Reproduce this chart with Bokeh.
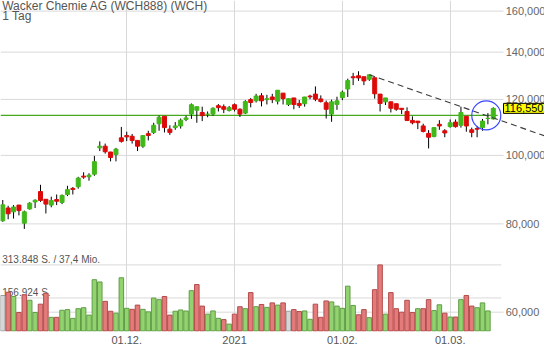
import math
from bokeh.plotting import figure
from bokeh.models import ColumnDataSource, FixedTicker, Range1d, LinearScale, Label
from bokeh.core.properties import value
from bokeh.embed import file_html
from bokeh.resources import INLINE

# ---------------- data ----------------
title_text = "Wacker Chemie AG (WCH888) (WCH)"
interval_text = "1 Tag"

opens = [80.80, 84.25, 83.20, 85.05, 80.19, 83.99, 85.94, 88.88, 86.67, 85.05,
         86.59, 85.78, 88.04, 89.80, 90.29, 93.46, 93.26, 94.05, 102.48, 103.04,
         101.10, 100.25, 105.89, 106.66, 106.42, 105.00, 103.04, 107.33, 107.77, 110.86,
         113.58, 108.93, 109.47, 110.06, 112.41, 114.40, 115.85, 115.01, 114.30, 114.40,
         117.57, 117.20, 115.74, 117.94, 116.21, 114.76, 119.92, 119.44, 121.44, 119.92,
         120.95, 119.32, 122.48, 118.05, 120.57, 118.43, 118.32, 121.30, 122.09, 120.19,
         118.68, 114.40, 118.05, 120.68, 124.14, 129.20, 129.61, 129.20, 128.11, 128.79,
         122.09, 119.06, 119.06, 118.32, 116.58, 115.38, 112.06, 111.81, 110.06, 107.43,
         106.32, 110.65, 108.35, 109.82, 111.46, 110.30, 113.58, 108.69, 109.13, 109.47,
         112.76, 112.62]
highs = [86.48, 84.86, 85.05, 85.10, 83.54, 85.86, 86.67, 90.86, 86.70, 87.41,
         88.04, 88.04, 90.57, 90.20, 93.26, 94.65, 94.35, 99.84, 104.67, 103.92,
         101.15, 102.48, 109.72, 108.01, 107.23, 105.05, 106.70, 108.35, 111.21, 113.82,
         113.60, 110.30, 111.46, 112.76, 113.82, 118.43, 117.25, 117.20, 115.38, 116.95,
         118.20, 118.05, 117.46, 118.43, 116.58, 119.70, 120.57, 122.21, 122.48, 121.82,
         122.21, 123.70, 122.50, 120.32, 120.60, 119.81, 121.00, 121.82, 125.20, 121.59,
         119.55, 119.92, 121.06, 123.52, 128.39, 130.84, 131.54, 129.25, 130.05, 128.85,
         122.10, 120.60, 119.10, 118.35, 116.60, 116.95, 113.58, 111.85, 110.86, 108.59,
         109.50, 112.16, 108.93, 112.41, 112.41, 117.20, 113.60, 109.47, 110.06, 112.62,
         114.76, 116.95]
lows = [80.55, 81.21, 81.39, 82.24, 78.70, 83.80, 84.25, 85.94, 82.76, 84.44,
        85.05, 85.32, 87.58, 88.04, 89.72, 92.67, 92.09, 93.55, 101.42, 100.57,
        98.07, 98.07, 104.25, 104.77, 103.92, 101.42, 102.48, 105.00, 107.23, 108.35,
        107.77, 106.89, 108.69, 109.13, 111.81, 112.62, 111.21, 111.81, 113.22, 113.82,
        115.38, 114.76, 115.38, 115.38, 113.33, 114.40, 116.95, 118.80, 117.31, 118.05,
        118.57, 118.05, 118.05, 117.46, 116.21, 116.73, 117.20, 120.08, 119.32, 118.80,
        112.76, 111.56, 115.99, 119.70, 120.95, 125.72, 127.47, 125.72, 127.47, 120.30,
        115.38, 117.83, 115.01, 115.63, 114.40, 111.81, 110.65, 108.93, 107.77, 102.29,
        106.09, 108.69, 106.09, 109.47, 109.47, 109.47, 108.01, 106.09, 106.09, 108.35,
        110.65, 112.41]
closes = [85.13, 82.68, 84.52, 83.54, 83.20, 85.59, 86.40, 86.35, 85.32, 86.32,
          86.13, 87.77, 89.44, 89.50, 92.88, 93.17, 93.76, 97.98, 103.04, 101.20,
          99.31, 102.06, 104.67, 106.22, 105.00, 103.04, 106.66, 106.70, 110.30, 113.22,
          109.47, 107.77, 110.06, 112.16, 112.97, 117.94, 117.20, 113.82, 114.35, 116.58,
          116.84, 116.21, 116.84, 116.21, 114.40, 119.17, 118.80, 121.33, 119.44, 120.30,
          119.92, 123.64, 120.30, 120.30, 118.05, 117.68, 120.95, 121.00, 120.08, 119.17,
          116.21, 119.06, 119.44, 122.86, 127.59, 128.79, 128.70, 127.47, 130.02, 122.21,
          118.43, 120.57, 116.58, 116.21, 116.15, 112.06, 111.21, 111.25, 108.11, 106.09,
          109.47, 110.06, 107.57, 111.21, 109.82, 115.01, 110.06, 107.77, 108.93, 111.81,
          112.86, 116.55]
volumes = [168700, 184000, 164000, 88000, 172000, 146000, 88000, 127500, 179000, 65000,
           65000, 98500, 101600, 60000, 106000, 110700, 75600, 243600, 232900, 141000,
           94000, 84800, 252800, 107700, 103000, 123000, 103000, 91000, 156500, 149000,
           164000, 75600, 94000, 100000, 95000, 191700, 220700, 118400, 80200, 95400,
           60300, 54200, 32800, 80200, 115300, 106100, 182500, 115300, 126000, 112300,
           133600, 123000, 133600, 94000, 101600, 92400, 95400, 55700, 127500, 65000,
           142800, 138200, 118400, 107700, 213000, 121400, 77100, 101600, 63400, 196300,
           313848, 80200, 182500, 106000, 89300, 145800, 87800, 106000, 106000, 148900,
           97000, 124500, 84800, 66400, 66400, 148900, 168800, 118400, 110700, 133600,
           95400, float("nan")]

date_tick_index = [23, 43, 63, 83]
date_tick_labels = ["01.12.", "2021", "01.02.", "01.03."]
price_ticks = [60, 80, 100, 120, 140, 160]
last_price = 116.55
marker_level = 113.9
trend_from, trend_to = 68, 85
vol_max = 313848
vol_turnover_mio = 37.4

# ---------------- derived ----------------
N = len(closes)
idx = list(range(N))

UP, DOWN = "#40b81a", "#dd0a0a"
body_col = [UP if c >= o else DOWN for o, c in zip(opens, closes)]
vol_fill, vol_line = [], []
for i in range(N):
    prev = closes[i - 1] if i > 0 else closes[i]
    if closes[i] > prev:
        vol_fill.append("#93d36f"); vol_line.append("#5f9e46")
    elif closes[i] < prev:
        vol_fill.append("#e47b7b"); vol_line.append("#b24c4c")
    else:
        vol_fill.append("#d6d6d6"); vol_line.append("#9c9c9c")

src = ColumnDataSource(dict(
    x=idx, o=opens, h=highs, l=lows, c=closes,
    top=[max(a, b) for a, b in zip(opens, closes)],
    bot=[min(a, b) for a, b in zip(opens, closes)],
    col=body_col, vol=volumes, vf=vol_fill, vl=vol_line))

def de_num(v, dec):
    return f"{v:,.{dec}f}".replace(",", "X").replace(".", ",").replace("X", ".")

price_labels = [f"{t:.3f}".replace(".", ",") for t in price_ticks]
vol_labels = [f"{de_num(vol_max, 0)} S. / {de_num(vol_turnover_mio, 1)} Mio.",
              f"{de_num(vol_max / 2, 0)} S."]

FONT = "Liberation Sans"
X0, X1 = -0.42, 100.5

p = figure(width=544, height=346, x_range=Range1d(X0, X1), y_range=Range1d(56.34, 165.63),
           y_axis_type="log", y_axis_location=None, x_axis_location="below",
           toolbar_location=None, output_backend="svg", min_border=0)
p.extra_y_ranges = {"vol": Range1d(-2291, 1569240)}
p.extra_y_scales = {"vol": LinearScale()}
p.outline_line_color = None
p.background_fill_color = "white"
p.border_fill_color = "white"
p.ygrid.visible = False
p.xgrid.ticker = FixedTicker(ticks=date_tick_index)
p.xgrid.grid_line_color = "#d9d9d9"

xa = p.xaxis[0]
xa.ticker = FixedTicker(ticks=date_tick_index)
xa.major_label_overrides = {t: s for t, s in zip(date_tick_index, date_tick_labels)}
xa.axis_line_color = None
xa.major_tick_line_color = None
xa.minor_tick_line_color = None
xa.major_tick_out = 0
xa.major_tick_in = 0
xa.major_label_text_font = FONT
xa.major_label_text_font_size = "11px"
xa.major_label_text_color = "#555555"
xa.major_label_standoff = 4

# horizontal price grid
p.segment(x0=X0, y0=price_ticks, x1=92.9, y1=price_ticks, line_color="#d9d9d9", line_width=1)
# volume grid + labels (labels sit beneath bars)
p.segment(x0=X0, y0=[vol_max, vol_max / 2], x1=92.5, y1=[vol_max, vol_max / 2],
          y_range_name="vol", line_color="#d9d9d9", line_width=1)
p.text(x=-0.1, y=[vol_max, vol_max / 2], text=vol_labels, y_range_name="vol",
       text_baseline="bottom", text_font_size="10px", text_color="#555555",
       text_font=value(FONT))

# volume bars
p.vbar(x="x", width=0.84, top="vol", bottom=0, source=src, y_range_name="vol",
       fill_color="vf", line_color="vl", line_width=1)

# marker line
p.segment(x0=X0, y0=marker_level, x1=91.8, y1=marker_level, line_color="#45aa1e", line_width=1.2)

# candles
p.segment(x0="x", y0="h", x1="x", y1="l", source=src, line_color="black", line_width=1)
p.vbar(x="x", width=0.74, top="top", bottom="bot", source=src,
       fill_color="col", line_color="col", line_width=1)

# trend line through two highs (straight on log scale)
h_a, h_b = highs[trend_from], highs[trend_to]
slope = (math.log(h_b) - math.log(h_a)) / (trend_to - trend_from)
y_end = math.exp(math.log(h_a) + slope * (X1 - trend_from))
p.line(x=[trend_from, X1], y=[h_a, y_end], line_color="#3a3a3a", line_width=1.1, line_dash="6 4")

# highlight circle
p.circle(x=[89.7], y=[marker_level], radius=14.5, radius_units="screen",
         fill_color=None, line_color="#3a48ff", line_width=1.2)

# price axis labels drawn inside the plot
p.text(x=93.3, y=price_ticks, text=price_labels, text_baseline="middle",
       text_font_size="11px", text_color="#666666", text_font=value(FONT))

# title
p.text(x=-0.1, y=[162.5, 157.3], text=[title_text, interval_text], text_baseline="middle",
       text_font_size="12px", text_color="#555555", text_font=value(FONT))

# last price box
p.add_layout(Label(x=92.9, y=last_price, text=f"{last_price:.3f}".replace(".", ","),
                   text_baseline="middle", text_font=FONT, text_font_size="11px",
                   text_color="black", background_fill_color="#ffff00",
                   border_line_color="black", border_line_width=1, padding=1))

open("out.html", "w").write(file_html(p, INLINE))
